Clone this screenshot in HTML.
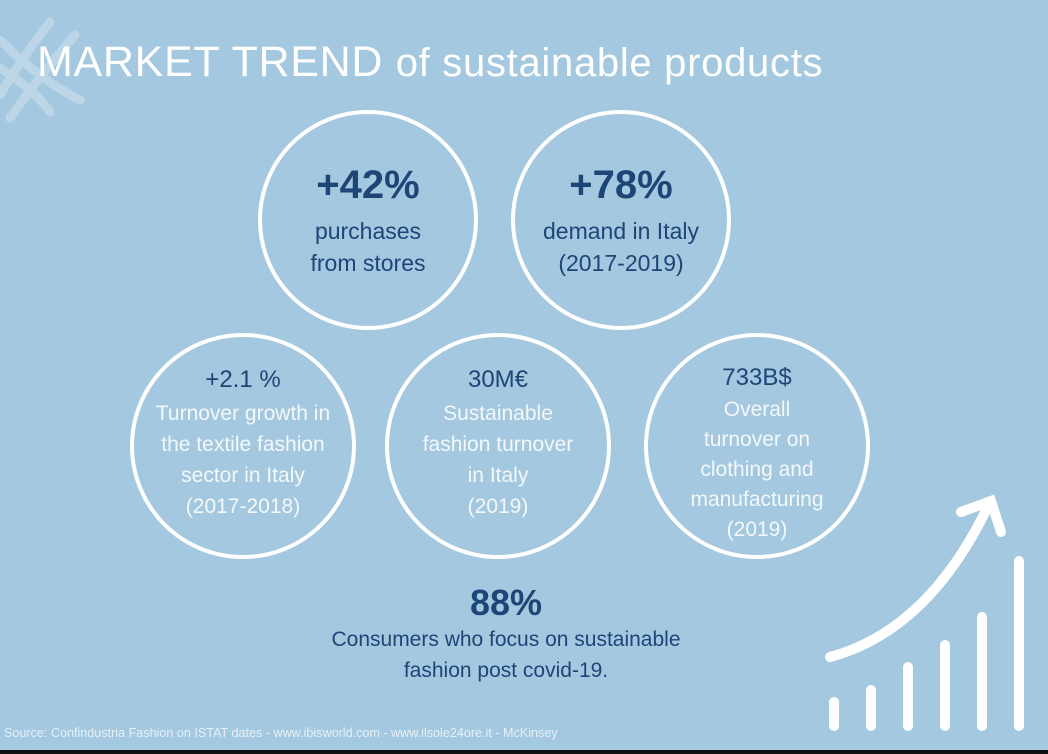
<!DOCTYPE html>
<html><head><meta charset="utf-8"><style>
html,body{margin:0;padding:0}
body{width:1048px;height:754px;background:#a3c8df;position:relative;overflow:hidden;font-family:"Liberation Sans",sans-serif}
.t{position:absolute;text-align:center;white-space:nowrap}
.navy{color:#1d4677}
.wh{color:#f4f8fb}
</style></head><body>
<svg width="1048" height="754" style="position:absolute;left:0;top:0">
<g stroke="#bcd6e8" stroke-width="9" fill="none" stroke-linecap="round">
<path d="M50 22 Q20 60 0 95"/><path d="M75 35 Q40 75 10 118"/>
<path d="M0 40 Q40 80 80 100"/><path d="M0 68 Q35 90 50 112"/>
</g>
<g stroke="#fff" stroke-width="4" fill="none">
<circle cx="368" cy="220" r="108"/>
<circle cx="621" cy="220" r="108"/>
<circle cx="243" cy="446" r="111"/>
<circle cx="498" cy="446" r="111"/>
<circle cx="757" cy="446" r="111"/>
</g>
<g stroke="#fff" stroke-width="10" stroke-linecap="round" fill="none">
<line x1="834" y1="702" x2="834" y2="726"/>
<line x1="871" y1="690" x2="871" y2="726"/>
<line x1="908" y1="667" x2="908" y2="726"/>
<line x1="945" y1="645" x2="945" y2="726"/>
<line x1="982" y1="617" x2="982" y2="726"/>
<line x1="1019" y1="561" x2="1019" y2="726"/>
<path d="M830 657 Q930 630 990 502"/>
<path d="M961 512 L991 501 L1001 532"/>
</g>
<rect x="0" y="750" width="1048" height="4" fill="#111"/>
</svg>
<div class="t" style="left:37px;top:38px;font-size:43px;color:#fff;letter-spacing:0.7px">MARKET TREND <span style="font-size:40px">of sustainable products</span></div>
<div class="t navy" style="left:268px;width:200px;top:163px;font-size:40px;font-weight:bold">+42%</div>
<div class="t navy" style="left:268px;width:200px;top:215px;font-size:23px;line-height:32px">purchases<br>from stores</div>
<div class="t navy" style="left:521px;width:200px;top:163px;font-size:40px;font-weight:bold">+78%</div>
<div class="t navy" style="left:511px;width:220px;top:215px;font-size:23px;line-height:32px">demand in Italy<br>(2017-2019)</div>
<div class="t navy" style="left:143px;width:200px;top:366px;font-size:24px">+2.1 %</div>
<div class="t wh" style="left:133px;width:220px;top:398px;font-size:21px;line-height:31px">Turnover growth in<br>the textile fashion<br>sector in Italy<br>(2017-2018)</div>
<div class="t navy" style="left:398px;width:200px;top:366px;font-size:24px">30M€</div>
<div class="t wh" style="left:388px;width:220px;top:398px;font-size:21px;line-height:31px">Sustainable<br>fashion turnover<br>in Italy<br>(2019)</div>
<div class="t navy" style="left:657px;width:200px;top:364px;font-size:24px">733B$</div>
<div class="t wh" style="left:647px;width:220px;top:395px;font-size:21px;line-height:30px">Overall<br>turnover on<br>clothing and<br>manufacturing<br>(2019)</div>
<div class="t navy" style="left:406px;width:200px;top:582px;font-size:36px;font-weight:bold">88%</div>
<div class="t navy" style="left:306px;width:400px;top:624px;font-size:21px;line-height:31px">Consumers who focus on sustainable<br>fashion post covid-19.</div>
<div class="t" style="left:4px;top:726px;font-size:12.6px;color:#e6f0f7">Source: Confindustria Fashion on ISTAT dates - www.ibisworld.com - www.ilsole24ore.it - McKinsey</div>
</body></html>
